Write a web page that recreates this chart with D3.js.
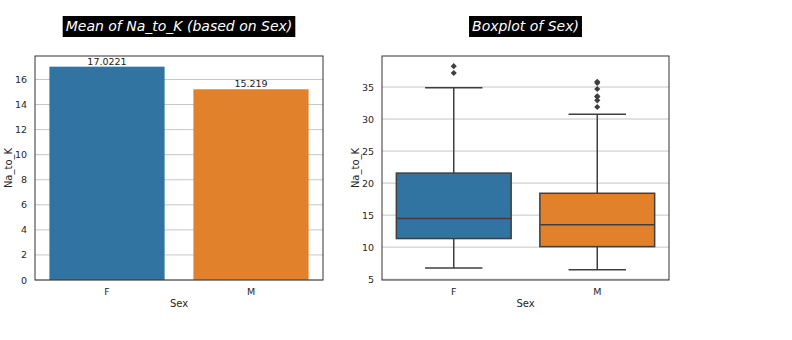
<!DOCTYPE html>
<html lang="en">
<head>
<meta charset="utf-8">
<title>Na_to_K by Sex</title>
<script src="https://cdn.jsdelivr.net/npm/d3@7"></script>
<style>
  body { margin: 0; background: #fff; }
  svg { font-family: "DejaVu Sans", sans-serif; }
</style>
</head>
<body>
<script>
// categories and values
var categories = ["F", "M"];
var meanValues = [17.0221, 15.219];
var meanLabels = ["17.0221", "15.219"];
var barTicks = [0, 2, 4, 6, 8, 10, 12, 14, 16];

// box stats per category: [whiskerLow, q1, median, q3, whiskerHigh]
var boxStats = [
    [6.73, 11.34, 14.48, 21.56, 34.87],
    [6.46, 10.08, 13.49, 18.41, 30.74]
];
var outliersF = [38.25, 37.19];
var outliersM = [35.82, 35.64, 34.69, 33.54, 33.49, 32.92, 31.88];
var boxTicks = [5, 10, 15, 20, 25, 30, 35];

var colors = ["#3274a1", "#e1812c"];

var width = 792, height = 340;
var svg = d3.select("body").append("svg")
    .attr("width", width)
    .attr("height", height);

function drawTitle(text, cx) {
    var g = svg.append("g");
    var bg = g.append("rect").attr("fill", "#000");
    var t = g.append("text")
        .attr("x", cx)
        .attr("y", 31)
        .attr("text-anchor", "middle")
        .attr("font-size", 14)
        .attr("font-style", "italic")
        .attr("fill", "#fff")
        .text(text);
    var b = t.node().getBBox();
    bg.attr("x", b.x - 3).attr("y", 16)
      .attr("width", b.width + 6).attr("height", 21);
}

function frame(x0, x1, y0, y1, yScale, ticks) {
    var g = svg.append("g");
    // grid
    g.selectAll("line.grid")
        .data(ticks)
        .join("line")
        .attr("x1", x0).attr("x2", x1)
        .attr("y1", d => yScale(d)).attr("y2", d => yScale(d))
        .attr("stroke", "#b8b8b8")
        .attr("stroke-width", 0.8);
    var ax = g.append("g")
        .attr("transform", `translate(${x0},0)`)
        .call(d3.axisLeft(yScale).tickValues(ticks).tickSize(0).tickPadding(8));
    ax.select(".domain").remove();
    ax.selectAll("text").attr("font-size", 9.5).attr("fill", "#262626")
        .attr("font-family", "DejaVu Sans");
    return g;
}

function spines(x0, x1, y0, y1) {
    svg.append("rect")
        .attr("x", x0).attr("y", y0)
        .attr("width", x1 - x0).attr("height", y1 - y0)
        .attr("fill", "none")
        .attr("stroke", "#333")
        .attr("stroke-width", 1);
}

function xLabels(xScale, y1, cx, ylx, cy) {
    var ax = svg.append("g")
        .attr("transform", `translate(0,${y1})`)
        .call(d3.axisBottom(xScale).tickSize(0).tickPadding(8));
    ax.select(".domain").remove();
    ax.selectAll("text").attr("font-size", 9.5).attr("fill", "#262626")
        .attr("font-family", "DejaVu Sans");
    svg.append("text")
        .attr("x", cx).attr("y", 307)
        .attr("text-anchor", "middle")
        .attr("font-size", 10).attr("fill", "#262626")
        .text("Sex");
    svg.append("text")
        .attr("transform", `translate(${ylx},${cy}) rotate(-90)`)
        .attr("text-anchor", "middle")
        .attr("font-size", 10).attr("fill", "#262626")
        .text("Na_to_K");
}

// ---- left: bar chart of means ----
var L = {x0: 35, x1: 323, y0: 56, y1: 280};
var xL = d3.scaleBand(categories, [L.x0, L.x1]).paddingInner(0.2).paddingOuter(0.1);
var yL = d3.scaleLinear([0, d3.max(meanValues) * 1.05], [L.y1, L.y0]);

frame(L.x0, L.x1, L.y0, L.y1, yL, barTicks);

svg.append("g")
    .selectAll("rect")
    .data(meanValues)
    .join("rect")
    .attr("x", (d, i) => xL(categories[i]))
    .attr("y", d => yL(d))
    .attr("width", xL.bandwidth())
    .attr("height", d => yL(0) - yL(d))
    .attr("fill", (d, i) => colors[i]);

svg.append("g")
    .selectAll("text")
    .data(meanValues)
    .join("text")
    .attr("x", (d, i) => xL(categories[i]) + xL.bandwidth() / 2)
    .attr("y", d => yL(d) - 2)
    .attr("text-anchor", "middle")
    .attr("font-size", 9.5)
    .attr("fill", "#222")
    .text((d, i) => meanLabels[i]);

spines(L.x0, L.x1, L.y0, L.y1);
xLabels(xL, L.y1, (L.x0 + L.x1) / 2, 12, (L.y0 + L.y1) / 2);
drawTitle("Mean of Na_to_K (based on Sex)", (L.x0 + L.x1) / 2);

// ---- right: boxplot ----
var R = {x0: 382, x1: 669, y0: 56, y1: 280};
var allVals = d3.merge([boxStats.flat(), outliersF, outliersM]);
var lo = d3.min(allVals), hi = d3.max(allVals), pad = (hi - lo) * 0.05;
var xR = d3.scaleBand(categories, [R.x0, R.x1]).paddingInner(0.2).paddingOuter(0.1);
var yR = d3.scaleLinear([lo - pad, hi + pad], [R.y1, R.y0]);

frame(R.x0, R.x1, R.y0, R.y1, yR, boxTicks);

var lineColor = "#3f3f3f";
var outliers = [outliersF, outliersM];
categories.forEach(function(c, i) {
    var s = boxStats[i];
    var bx = xR(c), bw = xR.bandwidth(), cx = bx + bw / 2;
    var g = svg.append("g").attr("stroke", lineColor).attr("stroke-width", 1.5);
    // whiskers
    g.append("line").attr("x1", cx).attr("x2", cx).attr("y1", yR(s[0])).attr("y2", yR(s[1]));
    g.append("line").attr("x1", cx).attr("x2", cx).attr("y1", yR(s[3])).attr("y2", yR(s[4]));
    // caps
    g.append("line").attr("x1", cx - bw / 4).attr("x2", cx + bw / 4).attr("y1", yR(s[0])).attr("y2", yR(s[0]));
    g.append("line").attr("x1", cx - bw / 4).attr("x2", cx + bw / 4).attr("y1", yR(s[4])).attr("y2", yR(s[4]));
    // box
    g.append("rect")
        .attr("x", bx).attr("y", yR(s[3]))
        .attr("width", bw).attr("height", yR(s[1]) - yR(s[3]))
        .attr("fill", colors[i]);
    g.append("line").attr("x1", bx).attr("x2", bx + bw).attr("y1", yR(s[2])).attr("y2", yR(s[2]));
    // outliers as diamonds
    svg.append("g")
        .selectAll("path")
        .data(outliers[i])
        .join("path")
        .attr("transform", d => `translate(${cx},${yR(d)})`)
        .attr("d", d3.symbol(d3.symbolDiamond2, 24))
        .attr("fill", lineColor);
});

spines(R.x0, R.x1, R.y0, R.y1);
xLabels(xR, R.y1, (R.x0 + R.x1) / 2, 359, (R.y0 + R.y1) / 2);
drawTitle("Boxplot of Sex)", (R.x0 + R.x1) / 2);
</script>
</body>
</html>
